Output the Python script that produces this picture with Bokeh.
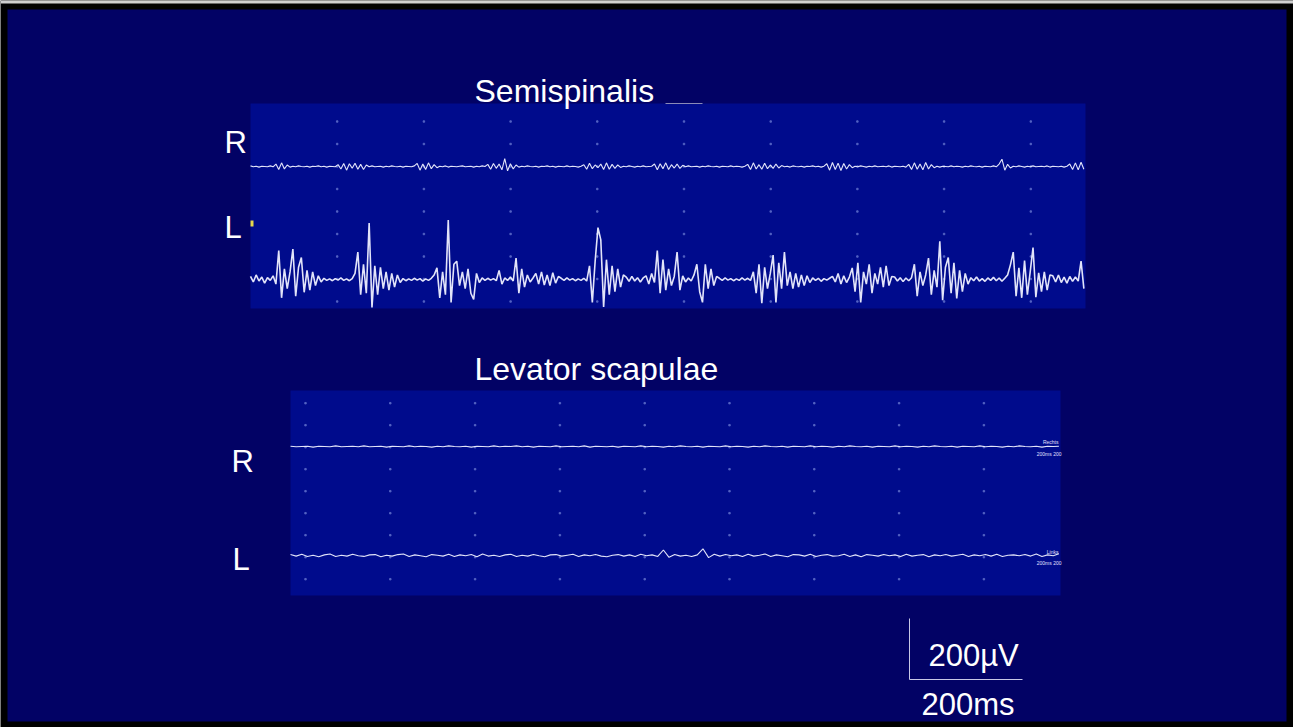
import numpy as np
from bokeh.plotting import figure
from bokeh.models import Range1d
from bokeh.embed import file_html
from bokeh.resources import INLINE
from bokeh.core.properties import value

# ---------------- data ----------------
titles = ["Semispinalis", "Levator scapulae"]
channel_labels = ["R", "L"]
scale_text = ["200µV", "200ms"]
scale_uV = 200
scale_ms = 200

sem_dt_ms = 5
sem_R_uV = [2, -1, 1, -2, 1, 0, -1, 2, -1,
            8, -10, 12, -8, 5,
            -2, 1, -1, 2, 0, -1, 1, -2, 1, 0, 2, -1, 1, -2, 1, 0, -1,
            6, -8, 10, -12, 9, -6, 11, -9, 7, -10, 5,
            -1, 2, -1, 0, 1, -2, 1, -1, 2, 0, -1, 1, -2, 1, 0, -1, 2,
            10, -12, 8, -10, 12, -7, 6, -4,
            1, -1, 2, -2, 1, 0, -1, 1, 2, -1, 0, 1, -2, 1, -1, 2, 0,
            7, -9, 10, -6, 8, -11, 26, -14, 9, -8, 5,
            -2, 1, -1, 2, 0, -1, 1, -2, 1, 0, 2, -1, 1, -2, 1, 0, -1, 2, -1, 1, 0, -2, 1,
            6, -9, 11, -7, 5, -4, 8, -10, 12, -9, 7, -6, 5, -3,
            1, -1, 2, 0, -2, 1, -1, 2, -1, 0, 1,
            8, -11, 9, -7, 12, -10, 6, -5, 8, -6, 4,
            -1, 2, -1, 0, 1, -2, 1, -1, 2, 0, -1, 1, -2, 1, 0, -1, 2, -1, 1, 0, -2, 1,
            7, -10, 12, -8, 6, -9, 11, -7, 5, -6, 8, -5, 3,
            -1, 1, -2, 2, 0, -1, 1, -2, 1, 0, 2, -1, 1, -2, 1,
            9, -12, 13, -10, 11, -13, 10, -8, 6, -4,
            1, -1, 2, 0, -2, 1, -1, 2, -1, 0, 1, -1, 2, -2, 1, 0, -1, 1, -2,
            7, -10, 12, -9, 8, -11, 13, -8, 6, -4,
            1, -2, 1, 0, -1, 2, -1, 1, 0, -2, 1, -1, 2, 0, -1, 1, -2, 1, 0, -1, 2, -1,
            8, 24, -12, 7, -5,
            1, -1, 2, 0, -2, 1, -1, 2, -1, 0, 1, -1, 2, -2, 1, 0, -1, 1, -2, 1,
            8, -10, 12, -11, 14, -9]
sem_L_uV = [10, -8, 15, -5, 8, -12, 6, -3, 12,
            -15, 95, -60, 35, -30, 25, 100, -55, 40, 72, -42, 30, -35, 25, -20, 12, -8,
            4, -3, 2, -4, 3, -2, 5, -3, 2, -4, 3,
            20, 90, -50, 50, -45, 185, -92, 45, -50, 40, -30, 25, -35, 20, -25, 15, -10,
            3, -4, 2, -3, 4, -2, 3, -5, 2, -3, 4,
            15, 38, -60, 25, -50, 195, -75, 50, 60, -20, 25, -30, 35, -45, -65, 20, -10,
            5, -3, 4, -2, 3, -4,
            30, -15, 5, -3, 8, -5, 70, -45, 35, -25, 15, -8, 5,
            20, -15, 25, -18, 15, -20, 22, -12, 10,
            4, -3, 5, -2, 3, -4, 2, -3, 4, -5,
            45, -75, 60, 170, 130, -90, 65, -50, 45, -40, 35, -25, 15,
            8, -6, 10, -5, 6, -8, 5,
            12, -15, 20, -10, 95, -45, 65, -35, 35, -20, 10, 90, -35, 12, -8, 5, -5, 15, 50, -40, -75, 50, -30, 35, -20, 10,
            4, -3, 5, -2, 3, -4, 2, -3, 5, -2, 4, -3,
            25, -45, 50, -78, 40, -30, 20, 80, -75, 55, -30, 90, -20, 25, -30, 20, -25, 15, -20, 12, -10,
            5, -3, 4, -6, 3, -2, 4,
            10, -8, 20, -15, 12, -10, 8, 38, -40, 55, -75, 25, -15, 50, -45, 20, -15, 40, -25, 45, -20, 10,
            8, -5, 6, -7, 5, -4, 6,
            50, -55, 25, -20, 15, 70, -50, 30, -25, 125, -68, 40, 72, -45, 55, -62, 30, -40, 20, -15,
            6, -4, 8, -5, 3, -6, 5, -3, 7, -4, 5, -6, 4,
            15, 48, 90, -55, 38, -60, 62, -50, 25, 105, -58, 22, -40, 25, -35, 15,
            12, -8, 15, -10, 8, -12, 10, -6, 8, -5,
            60, -30]

lev_dt_ms = 10
lev_R_uV = [1, -1, 0, 1, -2, 1, 0, -1, 2, -1, 0, 1, -1, 2, -1, 0, 1, -2, 1, 0,
            -1, 2, -1, 1, 0, -2, 1, -1, 2, 0, -1, 1, -2, 1, 0, -1, 2, -1, 1, 0,
            2, -1, 1, -2, 1, 0, -1, 2, -1, 0, 1, -1, 2, -2, 1, 0, -1, 1, -2, 1,
            0, -1, 2, -1, 1, 0, -2, 1, -1, 2, 0, -1, 1, -2, 1, 0, -1, 2, -1, 1,
            0, -2, 1, -1, 2, 0, -1, 1, -2, 1, 0, -1, 2, -1, 1, 0, -2, 1, -1, 2,
            0, -1, 1, -2, 1, 0, -1, 2, -1, 1, 0, -2, 1, -1, 2, 0, -1, 1, -2, 1,
            0, -1, 2, -1, 1, 0, -2, 1, -1, 2, 0, -1, 1, -2, 1, 0, 1]
lev_L_uV = [3, -2, 4, -3, 1, -4, 2, 5, -3, 1, -2, 4, -1, -3, 2, 3, -4, 1, -2, 3,
            5, -3, 2, -1, -4, 3, 1, -2, 4, -3, 2, -1, 3, -4, 5, -2, 1, -3, 2, 4,
            -3, 1, -2, 3, -1, -4, 2, 3, -2, 1, 4, -3, 2, -1, 3, -2, -4, 1, 3, -2,
            2, -3, 4, -1, 2, -3, 18, -6, 3, -2, 1, -3, 2, 22, -7, 4, -2, 3, -1, 2,
            -3, 4, -2, 1, 5, -3, 2, -1, -4, 3, 2, -2, 4, -3, 1, 3, -2, -1, 4, -3,
            2, -4, 3, 1, -2, 3, -1, 2, -3, 4, -2, 1, 3, -4, 2, -1, 3, -2, 1, 4,
            -3, 2, -1, 3, -2, 4, -3, 1, 2, -1, 3, -2, 5, -3, 2, -1, 6]

# ---------------- layout & style ----------------
W, H = 1293, 727
RIM = "#000000"
BG = "#020265"
PANEL = "#000b8c"
TRACE = "#eef0ff"
DOT = "#5c6cc8"
FONT = value("Liberation Sans")
px_per_ms = 113 / 200.0
px_per_uV = 61 / 200.0
TY = -12   # vertical correction for large text placement
SY = -2    # vertical correction for tiny text placement

panels = {
    "sem": dict(left=250, right=1085, top=103, bottom=308, base={"R": 166, "L": 279},
                dt=sem_dt_ms, data={"R": sem_R_uV, "L": sem_L_uV}),
    "lev": dict(left=290, right=1060, top=390, bottom=595, base={"R": 446, "L": 555},
                dt=lev_dt_ms, data={"R": lev_R_uV, "L": lev_L_uV}),
}

p = figure(width=W, height=H, x_range=Range1d(0, W), y_range=Range1d(H, 0),
           output_backend="svg", toolbar_location=None,
           x_axis_location=None, y_axis_location=None,
           min_border=0, min_border_left=0, min_border_right=0,
           min_border_top=0, min_border_bottom=0,
           background_fill_color=RIM, border_fill_color=RIM, outline_line_color=None)
p.grid.visible = False

# slide area inside the black rim, thin light edge on top
p.quad(left=0, right=W, top=0, bottom=3, fill_color="#cfcfcf", line_color=None)
p.quad(left=7, right=1286, top=9, bottom=721, fill_color=BG, line_color=None)

# panel backgrounds
for key, pn in panels.items():
    p.quad(left=pn["left"], right=pn["right"], top=pn["top"], bottom=pn["bottom"],
           fill_color=PANEL, line_color=None)

# grid dots of the recorder screens
gx, gy = [], []
for c in np.arange(250 + 86.7, 1085, 86.7):
    for r in np.arange(121, 305, 22.5):
        gx.append(c); gy.append(r)
for c in np.arange(305, 1060, 84.8):
    for r in np.arange(402.7, 590, 22.0):
        gx.append(c); gy.append(r)
p.scatter(gx, gy, marker="square", size=1.5, color=DOT, alpha=0.8)

# traces via per-channel ranges
xr, yr = {}, {}
for key, pn in panels.items():
    fl = pn["left"]
    xr[key + "_t"] = Range1d(-fl / px_per_ms, (W - fl) / px_per_ms)
    for ch, yb in pn["base"].items():
        yr[key + ch] = Range1d((yb - H) / px_per_uV, yb / px_per_uV)
p.extra_x_ranges = xr
p.extra_y_ranges = yr

for key, pn in panels.items():
    for ch in ["R", "L"]:
        v = np.array(pn["data"][ch], dtype=float)
        t = np.arange(len(v)) * pn["dt"]
        lw = 1.6 if (key == "sem" and ch == "L") else 1.1
        p.line(t, v, x_range_name=key + "_t", y_range_name=key + ch,
               line_color=TRACE, line_width=lw, line_alpha=0.95)

# small marks on recorder screens
p.line([665, 702], [103, 103], line_color="#8a8ab8", line_width=1)
p.quad(left=250, right=253, top=220, bottom=226, fill_color="#e6d84c", line_color=None)
p.text(x=[1058, 1061, 1058, 1061], y=[443 + SY, 455 + SY, 553 + SY, 564 + SY],
       text=["Rechts", "200ms 200", "Links", "200ms 200"],
       text_font=FONT, text_font_size="5px", text_color="#e0e0ff",
       text_align="right", text_baseline="alphabetic")

# titles and channel labels
p.text(x=[474, 474], y=[102 + TY, 380 + TY], text=titles,
       text_font=FONT, text_font_size="32px", text_color="white",
       text_baseline="alphabetic")
p.text(x=[224, 224, 231, 232], y=[154 + TY, 239 + TY, 473 + TY, 571 + TY],
       text=channel_labels * 2,
       text_font=FONT, text_font_size="31px", text_color="white",
       text_baseline="alphabetic")

# scale bar
sx, sy = 909, 679
p.line([sx, sx, sx + scale_ms * px_per_ms],
       [sy - scale_uV * px_per_uV, sy, sy],
       line_color="#c8c8e6", line_width=1)
p.text(x=[928, 921], y=[667 + TY, 716 + TY], text=scale_text,
       text_font=FONT, text_font_size="31px", text_color="white",
       text_baseline="alphabetic")

html = file_html(p, INLINE)
open("out.html", "w").write(html)
